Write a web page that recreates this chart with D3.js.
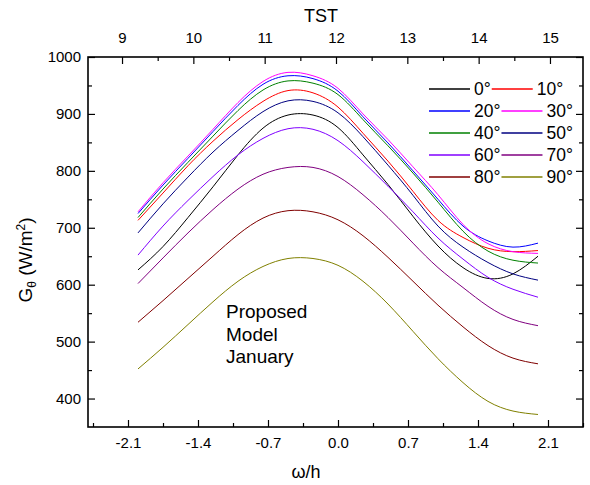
<!DOCTYPE html>
<html>
<head>
<meta charset="utf-8">
<script src="https://cdn.jsdelivr.net/npm/d3@7"></script>
<style>
  body { margin: 0; background: #fff; }
  text { font-family: "Liberation Sans", Arial, sans-serif; fill: #000; }
  .axis line { stroke: #000; stroke-width: 1.2; }
  .axis path { display: none; }
</style>
</head>
<body>
<script>
// hour angle samples (omega/h)
var omega = [-2.0, -1.75, -1.5, -1.25, -1.0, -0.75, -0.5, -0.25, 0.0, 0.25, 0.5, 0.75, 1.0, 1.25, 1.5, 1.75, 2.0];

// G_theta (W/m2) for each tilt angle
var g0  = [626, 667, 718, 772, 828, 875, 898, 898, 876, 828, 776, 720, 668, 630, 611, 619, 650];
var g10 = [713, 761, 809, 852, 890, 922, 941, 937, 912, 866, 817, 764, 713, 683, 664, 658, 660];
var g20 = [725, 775, 822, 869, 915, 952, 967, 962, 940, 895, 849, 800, 750, 703, 677, 666, 673];
var g30 = [728, 779, 826, 873, 920, 957, 973, 967, 945, 900, 855, 807, 758, 706, 672, 658, 655];
var g40 = [718, 768, 815, 861, 906, 942, 958, 954, 934, 890, 844, 796, 745, 694, 659, 643, 638];
var g50 = [691, 742, 789, 833, 871, 904, 923, 922, 902, 860, 810, 757, 703, 666, 639, 619, 608];
var g60 = [652, 703, 748, 790, 828, 857, 874, 873, 853, 816, 773, 728, 682, 645, 613, 592, 578];
var g70 = [602, 647, 691, 732, 768, 794, 806, 806, 790, 758, 718, 673, 630, 595, 562, 539, 528];
var g80 = [534, 572, 611, 650, 688, 717, 730, 728, 714, 686, 648, 606, 564, 526, 493, 471, 461];
var g90 = [452, 490, 530, 570, 606, 632, 646, 646, 634, 606, 566, 518, 470, 428, 395, 378, 372];

var tilts = ["0°", "10°", "20°", "30°", "40°", "50°", "60°", "70°", "80°", "90°"];
var seriesValues = [g0, g10, g20, g30, g40, g50, g60, g70, g80, g90];

var omegaTicks = [-2.1, -1.4, -0.7, 0.0, 0.7, 1.4, 2.1];
var tstTicks = [9, 10, 11, 12, 13, 14, 15];
var gTicks = [400, 500, 600, 700, 800, 900, 1000];

var colors = ["#000000", "#ff0000", "#0000ff", "#ff00ff", "#008000",
              "#000080", "#8000ff", "#800080", "#800000", "#808000"];

var plotLeft = 88, plotRight = 583, plotTop = 57, plotBottom = 427;

var svg = d3.select("body").append("svg")
    .attr("width", 590)
    .attr("height", 485);

var x = d3.scaleLinear().domain([-2.5, 2.45]).range([plotLeft, plotRight]);
var xTop = d3.scaleLinear().domain([8.523, 15.463]).range([plotLeft, plotRight]);
var y = d3.scaleLinear().domain([350, 1000]).range([plotBottom, plotTop]);

// minor tick positions
var omegaMinor = d3.range(-2.45, 2.46, 0.7);
var tstMinor = d3.range(9.5, 15, 1);
var gMinor = d3.range(450, 1000, 100);

var fmtOmega = function(d) { return d3.format(".1f")(d).replace("−", "-"); };

// bottom axis
svg.append("g").attr("class", "axis")
    .attr("transform", "translate(0," + plotBottom + ")")
    .call(d3.axisBottom(x).tickValues(omegaTicks).tickFormat(fmtOmega)
        .tickSize(-7).tickPadding(10))
    .selectAll("text").style("font-size", "15px");
svg.append("g").attr("class", "axis")
    .attr("transform", "translate(0," + plotBottom + ")")
    .call(d3.axisBottom(x).tickValues(omegaMinor).tickFormat("").tickSize(-4));

// top axis
svg.append("g").attr("class", "axis")
    .attr("transform", "translate(0," + plotTop + ")")
    .call(d3.axisTop(xTop).tickValues(tstTicks).tickFormat(d3.format("d"))
        .tickSize(-7).tickPadding(14))
    .selectAll("text").style("font-size", "15px");
svg.append("g").attr("class", "axis")
    .attr("transform", "translate(0," + plotTop + ")")
    .call(d3.axisTop(xTop).tickValues(tstMinor).tickFormat("").tickSize(-4));

// left axis
svg.append("g").attr("class", "axis")
    .attr("transform", "translate(" + plotLeft + ",0)")
    .call(d3.axisLeft(y).tickValues(gTicks).tickFormat(d3.format("d")).tickSize(-7).tickPadding(7))
    .selectAll("text").style("font-size", "15px");
svg.append("g").attr("class", "axis")
    .attr("transform", "translate(" + plotLeft + ",0)")
    .call(d3.axisLeft(y).tickValues(gMinor).tickFormat("").tickSize(-4));

// right axis (ticks only)
svg.append("g").attr("class", "axis")
    .attr("transform", "translate(" + plotRight + ",0)")
    .call(d3.axisRight(y).tickValues(gTicks).tickFormat("").tickSize(-7));
svg.append("g").attr("class", "axis")
    .attr("transform", "translate(" + plotRight + ",0)")
    .call(d3.axisRight(y).tickValues(gMinor).tickFormat("").tickSize(-4));

// frame
svg.append("rect")
    .attr("x", plotLeft).attr("y", plotTop)
    .attr("width", plotRight - plotLeft).attr("height", plotBottom - plotTop)
    .attr("fill", "none").attr("stroke", "#000").attr("stroke-width", 1.6);

// curves
var line = d3.line()
    .x(function(d, i) { return x(omega[i]); })
    .y(function(d) { return y(d); })
    .curve(d3.curveNatural);

svg.selectAll("path.series")
    .data(seriesValues)
    .enter().append("path")
    .attr("class", "series")
    .attr("d", line)
    .attr("fill", "none")
    .attr("stroke", function(d, i) { return colors[i]; })
    .attr("stroke-width", 1);

// legend, two entries per row
var legend = svg.append("g").style("font-size", "17.5px");
for (var r = 0; r < 5; r++) {
    var ry = 89 + r * 22;
    var lx = 429;
    for (var c = 0; c < 2; c++) {
        var k = r * 2 + c;
        legend.append("line")
            .attr("x1", lx).attr("x2", lx + 41)
            .attr("y1", ry).attr("y2", ry)
            .attr("stroke", colors[k]).attr("stroke-width", 1.4);
        var t = legend.append("text")
            .attr("x", lx + 45).attr("y", ry + 6)
            .text(tilts[k]);
        lx = lx + 45 + t.node().getComputedTextLength() + 1;
    }
}

// axis titles
svg.append("text")
    .attr("x", 321).attr("y", 22)
    .attr("text-anchor", "middle")
    .style("font-size", "18px")
    .text("TST");

svg.append("text")
    .attr("x", 306).attr("y", 478)
    .attr("text-anchor", "middle")
    .style("font-size", "18px")
    .text("ω/h");

var yTitle = svg.append("text")
    .attr("transform", "translate(32,260) rotate(-90)")
    .attr("text-anchor", "middle")
    .style("font-size", "19px");
yTitle.append("tspan").text("G");
yTitle.append("tspan").attr("dy", 4).style("font-size", "12px").text("θ");
yTitle.append("tspan").attr("dy", -4).text(" (W/m");
yTitle.append("tspan").attr("dy", -7).style("font-size", "12px").text("2");
yTitle.append("tspan").attr("dy", 7).text(")");

// note inside the plot
var note = ["Proposed", "Model", "January"];
svg.selectAll("text.note")
    .data(note)
    .enter().append("text")
    .attr("class", "note")
    .attr("x", 226)
    .attr("y", function(d, i) { return 318 + i * 22.5; })
    .style("font-size", "19px")
    .text(function(d) { return d; });
</script>
</body>
</html>
